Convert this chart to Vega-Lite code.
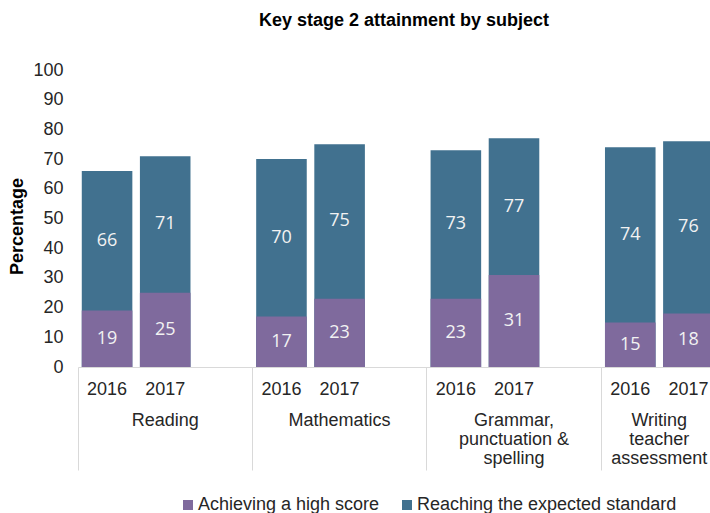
{
  "$schema": "https://vega.github.io/schema/vega-lite/v6.json",
  "width": 632,
  "height": 297,
  "autosize": "none",
  "padding": {"left": 78, "top": 70, "right": 0, "bottom": 146},
  "background": "white",
  "config": {"view": {"stroke": null}, "font": "Liberation Sans", "axisY": {"labelOverlap": false}},
  "title": {
    "text": "Key stage 2 attainment by subject",
    "fontSize": 18,
    "fontWeight": "bold",
    "font": "Liberation Sans",
    "color": "#000000",
    "anchor": "middle",
    "frame": "group",
    "dx": 10,
    "offset": 17,
    "baseline": "alphabetic"
  },
  "data": {
    "values": [
      {"cat": "Reading|2016", "measure": "Reaching the expected standard", "value": 66},
      {"cat": "Reading|2017", "measure": "Reaching the expected standard", "value": 71},
      {"cat": "Mathematics|2016", "measure": "Reaching the expected standard", "value": 70},
      {"cat": "Mathematics|2017", "measure": "Reaching the expected standard", "value": 75},
      {"cat": "Grammar|2016", "measure": "Reaching the expected standard", "value": 73},
      {"cat": "Grammar|2017", "measure": "Reaching the expected standard", "value": 77},
      {"cat": "Writing|2016", "measure": "Reaching the expected standard", "value": 74},
      {"cat": "Writing|2017", "measure": "Reaching the expected standard", "value": 76},
      {"cat": "Reading|2016", "measure": "Achieving a high score", "value": 19},
      {"cat": "Reading|2017", "measure": "Achieving a high score", "value": 25},
      {"cat": "Mathematics|2016", "measure": "Achieving a high score", "value": 17},
      {"cat": "Mathematics|2017", "measure": "Achieving a high score", "value": 23},
      {"cat": "Grammar|2016", "measure": "Achieving a high score", "value": 23},
      {"cat": "Grammar|2017", "measure": "Achieving a high score", "value": 31},
      {"cat": "Writing|2016", "measure": "Achieving a high score", "value": 15},
      {"cat": "Writing|2017", "measure": "Achieving a high score", "value": 18}
    ]
  },
  "layer": [
    {
      "transform": [{"filter": "datum.measure == 'Reaching the expected standard'"}],
      "mark": {"type": "bar", "width": {"band": 0.87}},
      "encoding": {
        "x": {
          "field": "cat",
          "type": "nominal",
          "scale": {
            "domain": ["Reading|2016", "Reading|2017", "Reading|gap", "Mathematics|2016", "Mathematics|2017", "Mathematics|gap", "Grammar|2016", "Grammar|2017", "Grammar|gap", "Writing|2016", "Writing|2017", "Writing|gap"],
            "range": [0, 697.6],
            "paddingInner": 0,
            "paddingOuter": 0
          },
          "axis": {
            "orient": "bottom",
            "title": null,
            "domainColor": "#d9d9d9",
            "domainWidth": 1,
            "ticks": false,
            "labelFontSize": 18,
            "labelFont": "Liberation Sans",
            "labelColor": "#262626",
            "labelPadding": 13,
            "labelAngle": 0,
            "labelOverlap": false,
            "labelBound": false,
            "labelFlush": false,
            "labelExpr": "split(datum.value, '|')[1] == 'gap' ? '' : split(datum.value, '|')[1]"
          }
        },
        "y": {
          "field": "value",
          "type": "quantitative",
          "title": "Percentage",
          "stack": null,
          "scale": {"domain": [0, 100], "nice": false},
          "axis": {
            "values": [0, 10, 20, 30, 40, 50, 60, 70, 80, 90, 100],
            "tickCount": 11,
            "grid": false,
            "domain": false,
            "ticks": false,
            "labelOverlap": false,
            "labelSeparation": 0,
            "labelFontSize": 18,
            "labelFont": "Liberation Sans",
            "labelColor": "#262626",
            "labelPadding": 15,
            "titleFontSize": 18,
            "titleFont": "Liberation Sans",
            "titleFontWeight": "bold",
            "titleColor": "#000000",
            "titlePadding": 6,
            "titleY": 156
          }
        },
        "color": {
          "field": "measure",
          "type": "nominal",
          "scale": {
            "domain": ["Achieving a high score", "Reaching the expected standard"],
            "range": ["#7f6a9d", "#41718f"]
          },
          "legend": {
            "orient": "none",
            "legendX": 101,
            "legendY": 426,
            "direction": "horizontal",
            "title": null,
            "symbolType": "square",
            "symbolSize": 100,
            "symbolStrokeWidth": 0,
            "symbolOpacity": 1,
            "labelFontSize": 18,
            "labelFont": "Liberation Sans",
            "labelColor": "#262626",
            "labelOffset": 1,
            "labelLimit": 0,
            "columnPadding": 18
          }
        }
      }
    },
    {
      "transform": [{"filter": "datum.measure == 'Achieving a high score'"}],
      "mark": {"type": "bar", "width": {"band": 0.87}},
      "encoding": {
        "x": {
          "field": "cat",
          "type": "nominal",
          "axis": {
            "orient": "bottom",
            "title": null,
            "domain": false,
            "labels": false,
            "ticks": true,
            "bandPosition": 0,
            "tickSize": 103,
            "tickWidth": 1,
            "tickColor": {"condition": {"test": "indexof(datum.value, '2016') >= 0", "value": "#d9d9d9"}, "value": "transparent"}
          }
        },
        "y": {"field": "value", "type": "quantitative", "title": "Percentage", "stack": null},
        "color": {"field": "measure", "type": "nominal"}
      }
    },
    {
      "transform": [{"filter": "datum.measure == 'Achieving a high score'"}],
      "mark": {"type": "text", "fontSize": 18, "font": "Open Sans", "color": "#f2f2f2", "baseline": "middle"},
      "encoding": {
        "x": {
          "field": "cat",
          "type": "nominal",
          "axis": {
            "orient": "bottom",
            "title": null,
            "domain": false,
            "ticks": false,
            "labelFontSize": 18,
            "labelFont": "Liberation Sans",
            "labelColor": "#262626",
            "labelPadding": 44,
            "labelAngle": 0,
            "labelOverlap": false,
            "labelBound": false,
            "labelFlush": false,
            "labelLineHeight": 19,
            "labelExpr": "datum.value == 'Reading|2017' ? 'Reading' : datum.value == 'Mathematics|2017' ? 'Mathematics' : datum.value == 'Grammar|2017' ? ['Grammar,', 'punctuation &', 'spelling'] : ''"
          }
        },
        "y": {"field": "value", "type": "quantitative", "title": "Percentage", "stack": "zero", "bandPosition": 0.5},
        "text": {"field": "value", "type": "quantitative"}
      }
    },
    {
      "mark": {"type": "text", "fontSize": 18, "font": "Open Sans", "color": "#f2f2f2", "baseline": "middle"},
      "encoding": {
        "x": {
          "field": "cat",
          "type": "nominal",
          "axis": {
            "orient": "bottom",
            "title": null,
            "domain": false,
            "ticks": false,
            "labelOffset": 29,
            "labelFontSize": 18,
            "labelFont": "Liberation Sans",
            "labelColor": "#262626",
            "labelPadding": 44,
            "labelAngle": 0,
            "labelOverlap": false,
            "labelBound": false,
            "labelFlush": false,
            "labelLineHeight": 19,
            "labelExpr": "datum.value == 'Writing|2016' ? ['Writing', 'teacher', 'assessment'] : ''"
          }
        },
        "y": {"aggregate": "mean", "field": "value", "type": "quantitative", "title": "Percentage"},
        "text": {"aggregate": "max", "field": "value", "type": "quantitative"}
      }
    }
  ],
  "resolve": {"axis": {"x": "independent"}}
}
